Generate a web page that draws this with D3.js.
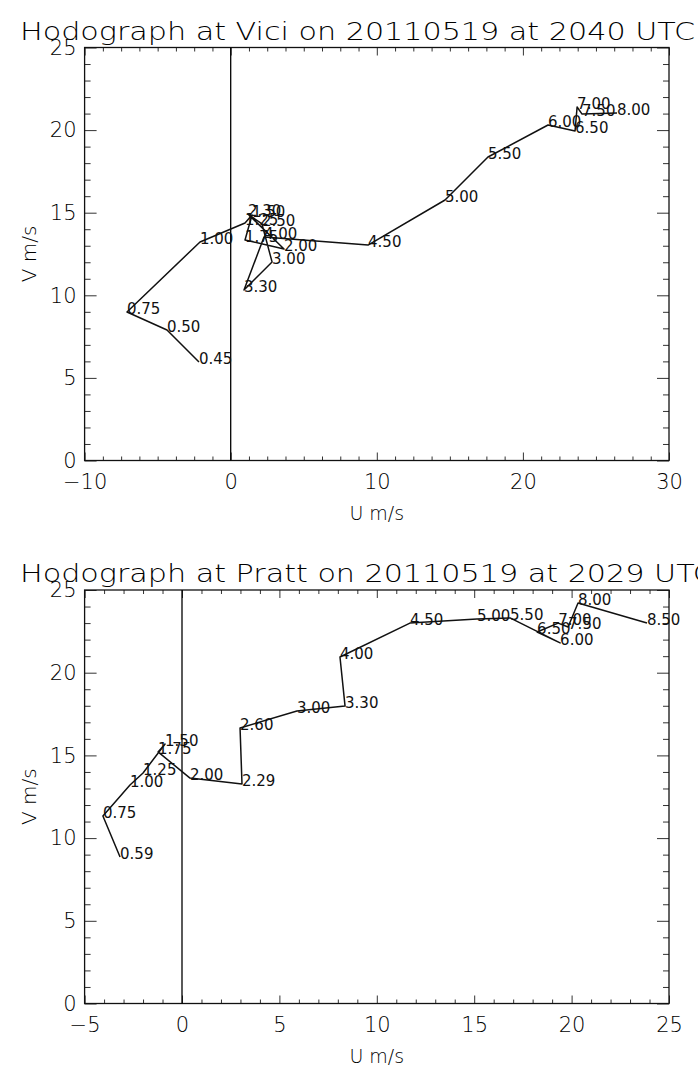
<!DOCTYPE html>
<html>
<head>
<meta charset="utf-8">
<script src="https://cdn.jsdelivr.net/npm/d3@7"></script>
<style>
  body { margin: 0; background: #fff; }
  svg text { font-family: "DejaVu Sans", "Liberation Sans", sans-serif; fill: #000; font-weight: 300; }
  svg text.lvl { font-weight: 400; fill: #111; }
</style>
</head>
<body>
<svg id="chart" width="698" height="1070"></svg>
<script>
// Vici hodograph: height labels (km) with wind components (m/s)
const viciTitle = "Hodograph at Vici on 20110519 at 2040 UTC";
const viciLevels = ["0.45","0.50","0.75","1.00","1.25","1.50","1.75","2.00","2.30","2.50","3.00","3.30","4.00","4.50","5.00","5.50","6.00","6.50","7.00","7.50","8.00"];
const viciU = [-2.17,-4.36,-7.10,-2.10,0.98,1.46,0.98,3.65,1.18,2.14,2.83,0.91,2.28,9.40,14.67,17.61,21.72,23.57,23.71,24.05,26.44];
const viciV = [5.96,7.90,8.99,13.23,14.38,14.86,13.35,12.80,14.92,14.32,12.02,10.32,13.53,13.04,15.77,18.37,20.31,19.95,21.40,20.97,21.03];
const viciXTicks = [-10, 0, 10, 20, 30];

// Pratt hodograph
const prattTitle = "Hodograph at Pratt on 20110519 at 2029 UTC";
const prattLevels = ["0.59","0.75","1.00","1.25","1.50","1.75","2.00","2.29","2.60","3.00","3.30","4.00","4.50","5.00","5.50","6.00","6.50","7.00","7.50","8.00","8.50"];
const prattU = [-3.18,-4.06,-2.67,-2.00,-0.87,-1.23,0.41,3.08,2.98,5.90,8.37,8.11,11.70,15.14,16.84,19.41,18.23,19.31,19.82,20.33,23.87];
const prattV = [8.86,11.34,13.21,13.94,15.69,15.21,13.63,13.27,16.66,17.68,17.98,20.95,23.00,23.25,23.31,21.80,22.46,23.00,22.76,24.21,23.00];
const prattXTicks = [-5, 0, 5, 10, 15, 20, 25];

const vTicks = [0, 5, 10, 15, 20, 25];

const svg = d3.select("#chart");
const fmt = d => d < 0 ? "\u2212" + Math.abs(d) : String(d);

function range(a, b, step) {
  const out = [];
  const n = Math.round((b - a) / step);
  for (let i = 0; i <= n; i++) out.push(+(a + i * step).toFixed(4));
  return out;
}

function panel(opt) {
  const g = svg.append("g");
  const x = d3.scaleLinear().domain(opt.xDomain).range([84.6, 669]);
  const y = d3.scaleLinear().domain([0, 25]).range([opt.bottom, opt.top]);

  const xMinor = range(opt.xDomain[0], opt.xDomain[1], opt.xMinorStep).filter(v => !opt.xTicks.includes(v));
  const yMinor = range(0, 25, 1).filter(v => !vTicks.includes(v));

  // major and minor ticks on all four sides, pointing inward
  const axes = [
    [d3.axisBottom(x).tickValues(opt.xTicks).tickSize(-8).tickPadding(14).tickFormat(fmt), `translate(0,${opt.bottom})`, true],
    [d3.axisBottom(x).tickValues(xMinor).tickSize(-4).tickFormat(""), `translate(0,${opt.bottom})`, false],
    [d3.axisTop(x).tickValues(opt.xTicks).tickSize(-8).tickFormat(""), `translate(0,${opt.top})`, false],
    [d3.axisTop(x).tickValues(xMinor).tickSize(-4).tickFormat(""), `translate(0,${opt.top})`, false],
    [d3.axisLeft(y).tickValues(vTicks).tickSize(-12).tickPadding(8).tickFormat(fmt), `translate(84.6,0)`, true],
    [d3.axisLeft(y).tickValues(yMinor).tickSize(-6).tickFormat(""), `translate(84.6,0)`, false],
    [d3.axisRight(y).tickValues(vTicks).tickSize(-12).tickFormat(""), `translate(669,0)`, false],
    [d3.axisRight(y).tickValues(yMinor).tickSize(-6).tickFormat(""), `translate(669,0)`, false]
  ];
  axes.forEach(([ax, tr, labelled]) => {
    const a = g.append("g").attr("transform", tr).call(ax);
    a.select(".domain").remove();
    a.selectAll(".tick line").attr("stroke", "#333").attr("stroke-width", 1);
    if (labelled) a.selectAll(".tick text").attr("font-size", 21).attr("fill", "#000")
      .style("font-family", '"DejaVu Sans", sans-serif').style("font-weight", 300);
  });

  // plot frame
  g.append("rect")
    .attr("x", x.range()[0]).attr("y", opt.top)
    .attr("width", x.range()[1] - x.range()[0]).attr("height", opt.bottom - opt.top)
    .attr("fill", "none").attr("stroke", "#111").attr("stroke-width", 1.3);

  // zero line for U
  g.append("line")
    .attr("x1", x(0)).attr("x2", x(0)).attr("y1", opt.top).attr("y2", opt.bottom)
    .attr("stroke", "#000").attr("stroke-width", 1.3);

  // hodograph trace
  const pts = opt.levels.map((l, i) => ({ l, u: opt.u[i], v: opt.v[i] }));
  g.append("path")
    .datum(pts)
    .attr("d", d3.line().x(d => x(d.u)).y(d => y(d.v)))
    .attr("fill", "none").attr("stroke", "#111").attr("stroke-width", 1.5)
    .attr("stroke-linejoin", "round");

  // height labels at each point
  g.selectAll("text.lvl").data(pts).join("text")
    .attr("class", "lvl")
    .attr("x", d => x(d.u)).attr("y", d => y(d.v) + 2)
    .attr("font-size", 15)
    .text(d => d.l);

  // axis titles
  g.append("text")
    .attr("x", (x.range()[0] + x.range()[1]) / 2).attr("y", opt.bottom + 59)
    .attr("text-anchor", "middle").attr("font-size", 19)
    .text("U m/s");
  g.append("text")
    .attr("transform", `translate(36,${(opt.top + opt.bottom) / 2}) rotate(-90)`)
    .attr("text-anchor", "middle").attr("font-size", 20)
    .text("V m/s");

  // title
  const t = g.append("text")
    .attr("x", 20).attr("y", opt.top - 8)
    .attr("font-size", 24)
    .text(opt.title);
  return t;
}

const t1 = panel({ title: viciTitle, levels: viciLevels, u: viciU, v: viciV,
  xDomain: [-10, 30], xTicks: viciXTicks, xMinorStep: 1.25, top: 47.5, bottom: 460.5 });
const t2 = panel({ title: prattTitle, levels: prattLevels, u: prattU, v: prattV,
  xDomain: [-5, 25], xTicks: prattXTicks, xMinorStep: 1, top: 590, bottom: 1003.5 });

// stretch the titles to the wide plotting-font proportions
const k = 675 / t1.node().getComputedTextLength();
[t1, t2].forEach(t => {
  const w = t.node().getComputedTextLength() * k;
  t.attr("textLength", w).attr("lengthAdjust", "spacingAndGlyphs");
});
</script>
</body>
</html>
